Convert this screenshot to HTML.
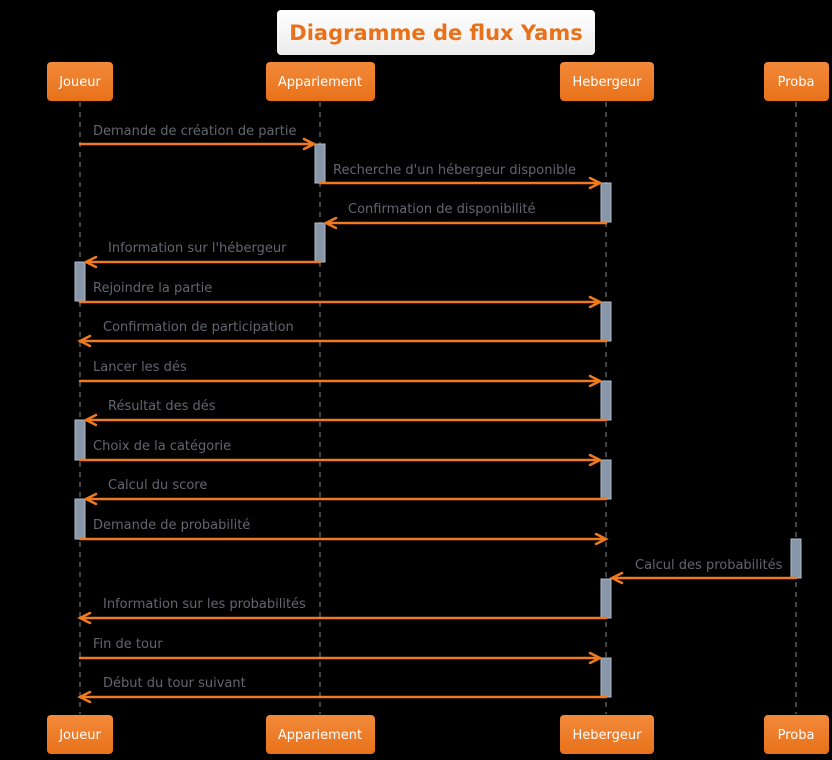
<!DOCTYPE html>
<html><head><meta charset="utf-8"><style>
html,body{margin:0;padding:0;background:#000;width:832px;height:760px;overflow:hidden}
text{font-family:"DejaVu Sans","Liberation Sans",sans-serif}
</style></head><body>
<svg width="832" height="760" viewBox="0 0 832 760" xmlns="http://www.w3.org/2000/svg">
<defs>
<linearGradient id="og" x1="0" y1="0" x2="0" y2="1"><stop offset="0" stop-color="#f28a3a"/><stop offset="1" stop-color="#e8711a"/></linearGradient>
<linearGradient id="wg" x1="0" y1="0" x2="0" y2="1"><stop offset="0" stop-color="#ffffff"/><stop offset="1" stop-color="#ececec"/></linearGradient>
</defs>
<rect x="277" y="10" width="318" height="45" rx="4" fill="url(#wg)"/>
<text x="436" y="40" text-anchor="middle" font-size="21" font-weight="bold" fill="#e8711a">Diagramme de flux Yams</text>
<g stroke="#888" stroke-width="1" stroke-dasharray="5,5">
<line x1="80" y1="102" x2="80" y2="714"/><line x1="320" y1="102" x2="320" y2="714"/>
<line x1="606" y1="102" x2="606" y2="714"/><line x1="796" y1="102" x2="796" y2="714"/>
</g>
<g fill="url(#og)">
<rect x="47" y="62" width="66" height="39" rx="4"/><rect x="266" y="62" width="109" height="39" rx="4"/>
<rect x="560" y="62" width="94" height="39" rx="4"/><rect x="764" y="62" width="65" height="39" rx="4"/>
<rect x="47" y="715" width="66" height="39" rx="4"/><rect x="266" y="715" width="109" height="39" rx="4"/>
<rect x="560" y="715" width="94" height="39" rx="4"/><rect x="764" y="715" width="65" height="39" rx="4"/>
</g>
<g fill="#fff" font-size="13" text-anchor="middle">
<text x="80" y="86">Joueur</text><text x="320" y="86">Appariement</text><text x="607" y="86">Hebergeur</text><text x="796" y="86">Proba</text>
<text x="80" y="739">Joueur</text><text x="320" y="739">Appariement</text><text x="607" y="739">Hebergeur</text><text x="796" y="739">Proba</text>
</g>
<g fill="#8796a8" stroke="#b0bccb" stroke-width="1">
<rect x="315" y="144" width="10" height="39"/><rect x="601" y="183" width="10" height="39"/>
<rect x="315" y="223" width="10" height="39"/><rect x="75" y="262" width="10" height="39"/>
<rect x="601" y="302" width="10" height="39"/><rect x="601" y="381" width="10" height="39"/>
<rect x="75" y="420" width="10" height="40"/><rect x="601" y="460" width="10" height="39"/>
<rect x="75" y="499" width="10" height="40"/><rect x="791" y="539" width="10" height="39"/>
<rect x="601" y="579" width="10" height="39"/><rect x="601" y="658" width="10" height="39"/>
</g>
<g stroke="#ef7a1f" stroke-width="2.5" fill="none" stroke-linecap="round">
<line x1="80" y1="144" x2="314" y2="144"/><polyline points="304,139 314,144 304,149"/>
<line x1="320" y1="183" x2="600" y2="183"/><polyline points="590,178 600,183 590,188"/>
<line x1="606" y1="223" x2="326" y2="223"/><polyline points="336,218 326,223 336,228"/>
<line x1="320" y1="262" x2="86" y2="262"/><polyline points="96,257 86,262 96,267"/>
<line x1="80" y1="302" x2="600" y2="302"/><polyline points="590,297 600,302 590,307"/>
<line x1="606" y1="341" x2="80" y2="341"/><polyline points="90,336 80,341 90,346"/>
<line x1="80" y1="381" x2="600" y2="381"/><polyline points="590,376 600,381 590,386"/>
<line x1="606" y1="420" x2="86" y2="420"/><polyline points="96,415 86,420 96,425"/>
<line x1="80" y1="460" x2="600" y2="460"/><polyline points="590,455 600,460 590,465"/>
<line x1="606" y1="499" x2="86" y2="499"/><polyline points="96,494 86,499 96,504"/>
<line x1="80" y1="539" x2="606" y2="539"/><polyline points="596,534 606,539 596,544"/>
<line x1="796" y1="578" x2="612" y2="578"/><polyline points="622,573 612,578 622,583"/>
<line x1="606" y1="618" x2="80" y2="618"/><polyline points="90,613 80,618 90,623"/>
<line x1="80" y1="658" x2="600" y2="658"/><polyline points="590,653 600,658 590,663"/>
<line x1="606" y1="697" x2="80" y2="697"/><polyline points="90,692 80,697 90,702"/>
</g>
<g fill="#62666f" font-size="13">
<text x="93" y="135">Demande de création de partie</text>
<text x="333" y="174">Recherche d'un hébergeur disponible</text>
<text x="348" y="213">Confirmation de disponibilité</text>
<text x="108" y="252">Information sur l'hébergeur</text>
<text x="93" y="292">Rejoindre la partie</text>
<text x="103" y="331">Confirmation de participation</text>
<text x="93" y="371">Lancer les dés</text>
<text x="108" y="410">Résultat des dés</text>
<text x="93" y="450">Choix de la catégorie</text>
<text x="108" y="489">Calcul du score</text>
<text x="93" y="529">Demande de probabilité</text>
<text x="635" y="569">Calcul des probabilités</text>
<text x="103" y="608">Information sur les probabilités</text>
<text x="93" y="648">Fin de tour</text>
<text x="103" y="687">Début du tour suivant</text>
</g>
</svg>
</body></html>
